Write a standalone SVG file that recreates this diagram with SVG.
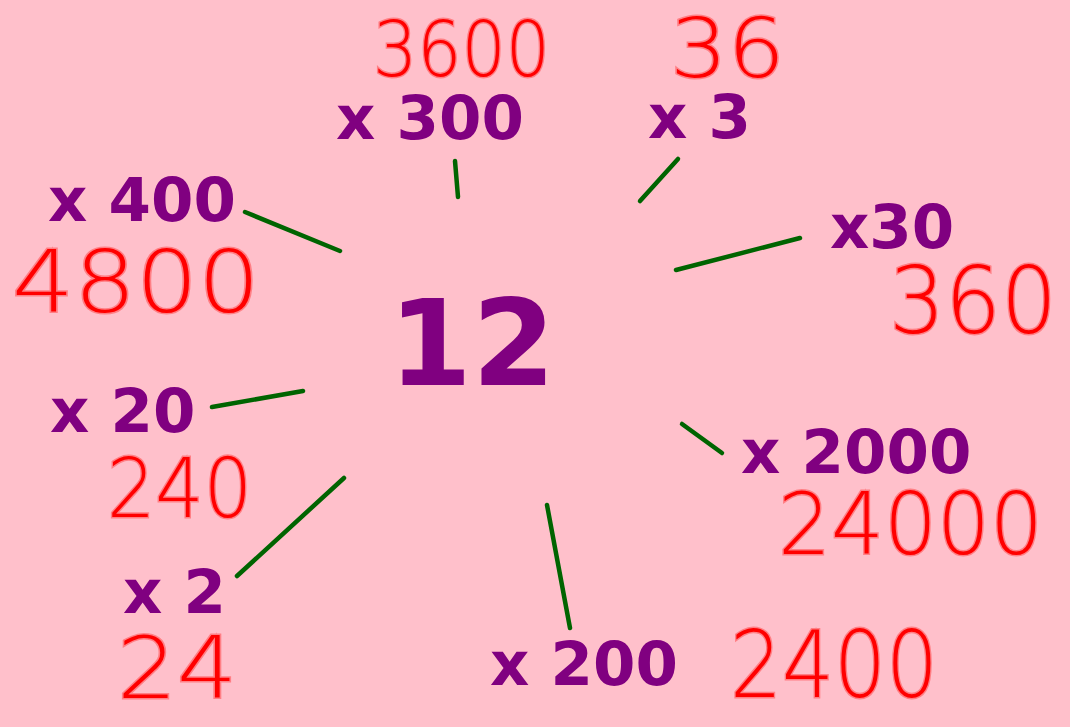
<svg xmlns="http://www.w3.org/2000/svg" width="1070" height="727" viewBox="0 0 1070 727">
<style>
.lbl{font-family:"DejaVu Sans",sans-serif;font-weight:bold;font-size:61px;fill:#800080}
.big{font-family:"DejaVu Sans",sans-serif;font-weight:bold;font-size:120px;fill:#800080}
.hand{font-family:"DejaVu Sans",sans-serif;font-weight:200;fill:#ff0000;stroke:#ff3030;stroke-opacity:0.45;stroke-width:3;paint-order:stroke}
.con line{stroke:#006400;stroke-width:4.5;stroke-linecap:round}
</style>
<rect x="0" y="0" width="1070" height="727" fill="#ffc0cb"/>
<g id="center"><text class="big" x="472" y="385" text-anchor="middle">12</text></g>
<g id="n300"><text class="lbl" x="336" y="139">x 300</text><text class="hand" x="373" y="76" font-size="76" textLength="177" lengthAdjust="spacingAndGlyphs">3600</text></g>
<g id="n3"><text class="lbl" x="648" y="138">x 3</text><text class="hand" x="670" y="77" font-size="82" textLength="115" lengthAdjust="spacingAndGlyphs">36</text></g>
<g id="n400"><text class="lbl" x="48" y="221">x 400</text><text class="hand" x="12" y="312" font-size="86" textLength="248" lengthAdjust="spacingAndGlyphs">4800</text></g>
<g id="n30"><text class="lbl" x="830" y="248">x30</text><text class="hand" x="889" y="333" font-size="92" textLength="168" lengthAdjust="spacingAndGlyphs">360</text></g>
<g id="n20"><text class="lbl" x="50" y="432">x 20</text><text class="hand" x="107" y="517" font-size="82" textLength="145" lengthAdjust="spacingAndGlyphs">240</text></g>
<g id="n2"><text class="lbl" x="123" y="613">x 2</text><text class="hand" x="117" y="698" font-size="86" textLength="120" lengthAdjust="spacingAndGlyphs">24</text></g>
<g id="n200"><text class="lbl" x="490" y="685">x 200</text><text class="hand" x="730" y="697" font-size="92" textLength="208" lengthAdjust="spacingAndGlyphs">2400</text></g>
<g id="n2000"><text class="lbl" x="741" y="473">x 2000</text><text class="hand" x="778" y="554" font-size="86" textLength="265" lengthAdjust="spacingAndGlyphs">24000</text></g>
<g id="connectors" class="con">
<line x1="455" y1="161" x2="458" y2="197"/>
<line x1="678" y1="159" x2="640" y2="201"/>
<line x1="245" y1="212" x2="340" y2="251"/>
<line x1="676" y1="270" x2="800" y2="238"/>
<line x1="212" y1="407" x2="303" y2="391"/>
<line x1="237" y1="576" x2="344" y2="478"/>
<line x1="547" y1="505" x2="570" y2="628"/>
<line x1="682" y1="424" x2="722" y2="453"/>
</g>
</svg>
